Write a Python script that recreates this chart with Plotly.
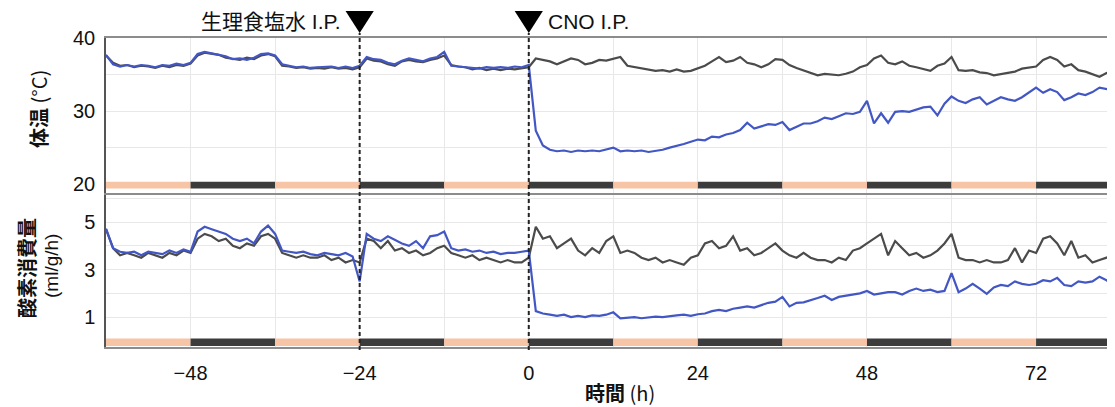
import plotly.graph_objects as go

# ---------------- data ----------------
HOURS = list(range(-60, 84))  # time (h), 1-h resolution

TEMP_CTRL = [
    37.6, 36.6, 36.2, 36.3, 36.0, 36.2, 36.1, 35.9, 36.2, 36.0, 36.3, 36.2,   # -60..-49
    36.5, 37.6, 38.0, 37.8, 37.7, 37.3, 37.2, 37.0, 37.3, 37.1, 37.6, 37.8,   # -48..-37
    37.5, 36.2, 36.1, 35.9, 36.0, 35.8, 35.9, 35.8, 36.0, 35.8, 35.9, 35.7,   # -36..-25
    36.0, 37.2, 36.9, 36.8, 36.4, 36.2, 36.8, 37.0, 36.8, 36.7, 37.0, 37.2,   # -24..-13
    37.6, 36.3, 36.1, 36.0, 35.7, 35.9, 35.6, 35.8, 35.6, 35.8, 35.7, 35.9,   # -12..-1
    36.0, 37.2, 37.0, 36.8, 36.4, 36.8, 37.2, 37.0, 36.4, 36.6, 37.0, 36.9,   # 0..11
    37.2, 37.4, 36.2, 36.0, 35.8, 35.7, 35.5, 35.6, 35.4, 35.7, 35.4, 35.5,   # 12..23
    35.9, 36.2, 36.8, 37.4, 36.7, 36.9, 37.4, 36.6, 36.4, 36.0, 36.4, 37.1,   # 24..35
    37.0, 36.3, 35.9, 35.6, 35.2, 34.9, 35.1, 35.0, 34.9, 35.1, 35.4, 36.0,   # 36..47
    36.3, 37.2, 37.6, 36.6, 36.4, 36.8, 36.2, 36.0, 35.7, 35.5, 36.2, 36.5,   # 48..59
    37.4, 35.6, 35.5, 35.6, 35.3, 35.2, 34.9, 35.1, 35.2, 35.4, 35.8, 36.0,   # 60..71
    36.1, 37.0, 37.4, 37.0, 36.1, 36.4, 35.6, 35.4, 35.0, 34.7, 35.2, 35.5,   # 72..83
]

TEMP_CNO = [
    37.7, 36.4, 36.1, 36.3, 36.1, 36.3, 36.2, 36.0, 36.3, 36.2, 36.5, 36.3,
    36.6, 37.8, 38.1, 37.9, 37.8, 37.5, 37.1, 37.2, 37.0, 37.3, 37.8, 37.9,
    37.6, 36.4, 36.2, 36.0, 36.1, 35.9, 36.0, 36.0, 36.1, 35.9, 36.1, 35.9,
    36.2, 37.4, 37.1, 37.0, 36.6, 36.4, 36.9, 37.2, 37.0, 36.8, 37.2, 37.4,
    38.1, 36.2, 36.1, 36.0, 36.0, 35.8, 36.0, 35.9, 36.0, 35.9, 36.1, 36.0,
    36.3, 27.3, 25.3, 24.7, 24.5, 24.6, 24.4, 24.6, 24.5, 24.6, 24.5, 24.7,
    25.0, 24.5, 24.6, 24.5, 24.6, 24.4, 24.5, 24.7, 25.0, 25.2, 25.5, 25.8,
    26.1, 26.0, 26.5, 26.4, 26.8, 27.0, 27.4, 28.4, 27.6, 27.9, 28.2, 28.1,
    28.5, 27.4, 27.9, 28.3, 28.3, 28.6, 29.1, 28.9, 29.3, 29.7, 29.6, 29.9,
    31.4, 28.3, 29.7, 28.4, 29.9, 30.0, 29.9, 30.2, 30.5, 30.6, 29.4, 31.0,
    32.0, 31.4, 31.1, 31.6, 31.9, 30.9, 31.4, 31.9, 31.6, 31.4, 31.9, 32.6,
    33.2, 32.5, 33.0, 32.6, 31.5, 31.9, 32.4, 32.2, 32.6, 33.2, 33.0, 32.8,
]

O2_CTRL = [
    4.70, 3.90, 3.60, 3.70, 3.60, 3.50, 3.70, 3.60, 3.50, 3.70, 3.60, 3.80,
    3.70, 4.30, 4.50, 4.40, 4.20, 4.30, 4.00, 3.90, 4.10, 4.00, 4.40, 4.50,
    4.30, 3.70, 3.60, 3.50, 3.60, 3.50, 3.50, 3.60, 3.40, 3.50, 3.30, 3.40,
    3.30, 4.30, 4.20, 3.90, 4.20, 3.80, 3.90, 3.70, 3.80, 3.60, 3.70, 3.90,
    4.00, 3.70, 3.60, 3.50, 3.60, 3.40, 3.50, 3.40, 3.30, 3.40, 3.30, 3.30,
    3.50, 4.80, 4.30, 4.40, 3.90, 4.10, 4.30, 3.80, 3.60, 3.90, 3.70, 4.20,
    4.40, 3.70, 3.80, 3.70, 3.50, 3.40, 3.50, 3.30, 3.40, 3.30, 3.20, 3.50,
    3.60, 4.10, 4.20, 3.90, 4.00, 4.40, 3.80, 3.90, 3.60, 3.70, 3.90, 4.10,
    3.80, 3.60, 3.50, 3.70, 3.50, 3.40, 3.40, 3.30, 3.50, 3.40, 3.80, 3.90,
    4.10, 4.30, 4.50, 3.60, 4.20, 3.90, 3.60, 3.70, 3.50, 3.60, 3.80, 4.10,
    4.50, 3.50, 3.40, 3.40, 3.30, 3.40, 3.30, 3.30, 3.40, 3.90, 3.30, 3.80,
    3.70, 4.30, 4.40, 4.10, 3.60, 4.20, 3.50, 3.60, 3.30, 3.40, 3.50, 3.60,
]

O2_CNO = [
    4.72, 3.90, 3.75, 3.70, 3.75, 3.60, 3.75, 3.70, 3.65, 3.80, 3.70, 3.85,
    3.75, 4.60, 4.80, 4.70, 4.60, 4.50, 4.30, 4.20, 4.30, 4.10, 4.60, 4.85,
    4.50, 3.80, 3.75, 3.70, 3.75, 3.65, 3.60, 3.70, 3.65, 3.60, 3.70, 3.55,
    2.50, 4.50, 4.30, 4.20, 4.40, 4.25, 4.10, 4.00, 4.20, 3.90, 4.40, 4.45,
    4.60, 3.90, 3.80, 3.85, 3.75, 3.80, 3.70, 3.75, 3.65, 3.70, 3.70, 3.75,
    3.80, 1.25, 1.15, 1.10, 1.05, 1.10, 1.00, 1.05, 1.00, 1.07, 1.05, 1.10,
    1.20, 0.95, 0.97, 1.00, 0.95, 1.00, 1.02, 1.00, 1.05, 1.07, 1.10, 1.05,
    1.12, 1.15, 1.25, 1.30, 1.25, 1.35, 1.40, 1.45, 1.40, 1.50, 1.60, 1.65,
    1.85, 1.45, 1.60, 1.62, 1.70, 1.80, 1.90, 1.72, 1.85, 1.90, 1.92, 2.00,
    2.10, 1.95, 2.00, 2.05, 2.05, 1.95, 2.10, 2.20, 2.10, 2.15, 2.05, 2.10,
    2.85, 2.05, 2.20, 2.40, 2.20, 1.98, 2.25, 2.35, 2.30, 2.50, 2.40, 2.35,
    2.40, 2.55, 2.50, 2.65, 2.35, 2.30, 2.50, 2.45, 2.50, 2.70, 2.55, 2.35,
]

# light/dark schedule (start, end, phase)
LD_STARTS = [-60, -48, -36, -24, -12, 0, 12, 24, 36, 48, 60, 72]
LD_ENDS = [-48, -36, -24, -12, 0, 12, 24, 36, 48, 60, 72, 84]
LD_PHASE = ["L", "D", "L", "D", "L", "D", "L", "D", "L", "D", "L", "D"]

X_TICKS = list(range(-60, 85, 12))
X_LABELS = {-48: "\u221248", -24: "\u221224", 0: "0", 24: "24", 48: "48", 72: "72"}
T_TICKS = [20, 25, 30, 35, 40]
T_LABELS = {20: "20", 30: "30", 40: "40"}
O_TICKS = [0, 1, 2, 3, 4, 5, 6]
O_LABELS = {1: "1", 3: "3", 5: "5"}

INJECTIONS = [-24, 0]
INJ_LABELS = ["生理食塩水 I.P.", "CNO I.P."]

# ---------------- style ----------------
GRAY = "#4b4b4b"
BLUE = "#4257c4"
LIGHT = "#f7c4a6"
DARK = "#3c3c3c"
GRID = "#e8e8e8"
FONT = "Liberation Sans, Noto Sans CJK JP, sans-serif"
JFONT = "Noto Sans CJK JP, sans-serif"

# page offset of the figure (default body margin of the html page)
OFF = 8
W, H = 1115 - OFF, 407 - OFF
L, T = 106 - OFF, 38 - OFF
PLOT_BOTTOM = 347 - OFF
B = H - PLOT_BOTTOM
PW, PH = W - L, PLOT_BOTTOM - T


def px_to_paper(px, py):
    """page pixel -> paper fraction"""
    return (px - OFF - L) / PW, (PLOT_BOTTOM - (py - OFF)) / PH


fig = go.Figure()
fig.add_trace(go.Scatter(x=HOURS, y=TEMP_CTRL, mode="lines", line=dict(color=GRAY, width=2.2),
                         xaxis="x", yaxis="y", showlegend=False))
fig.add_trace(go.Scatter(x=HOURS, y=TEMP_CNO, mode="lines", line=dict(color=BLUE, width=2.2),
                         xaxis="x", yaxis="y", showlegend=False))
fig.add_trace(go.Scatter(x=HOURS, y=O2_CTRL, mode="lines", line=dict(color=GRAY, width=2.2),
                         xaxis="x2", yaxis="y2", showlegend=False))
fig.add_trace(go.Scatter(x=HOURS, y=O2_CNO, mode="lines", line=dict(color=BLUE, width=2.2),
                         xaxis="x2", yaxis="y2", showlegend=False))

XR = [-60, 83.2]
common_x = dict(range=XR, tickvals=X_TICKS, showgrid=True, gridcolor=GRID, gridwidth=1,
                zeroline=False, showline=True, linecolor="#8c8c8c", linewidth=1.5, mirror=True,
                ticks="", fixedrange=True, automargin=False)

shapes = []
for s, e, p in zip(LD_STARTS, LD_ENDS, LD_PHASE):
    col = LIGHT if p == "L" else DARK
    shapes.append(dict(type="rect", xref="x", yref="y", x0=s, x1=e, y0=19.41, y1=20.32,
                       fillcolor=col, line=dict(width=0), layer="above"))
    shapes.append(dict(type="rect", xref="x2", yref="y2", x0=s, x1=e, y0=-0.22, y1=0.10,
                       fillcolor=col, line=dict(width=0), layer="above"))
_, tri_top = px_to_paper(0, 11)
_, tri_tip = px_to_paper(0, 33)
for t in INJECTIONS:
    shapes.append(dict(type="line", xref="x", yref="paper", x0=t, x1=t, y0=-0.01, y1=tri_tip,
                       line=dict(color="#222222", width=2, dash="4px,3px"), layer="above"))
    shapes.append(dict(type="path", xref="x", yref="paper",
                       path=f"M {t-2.0},{tri_top} L {t+2.0},{tri_top} L {t},{tri_tip} Z",
                       fillcolor="#000000", line=dict(width=0)))

ax1, ay1 = px_to_paper(38, 109)
ax2, ay2 = px_to_paper(26, 268)
ax3, ay3 = px_to_paper(51, 266)
ax4, ay4 = px_to_paper(620, 392)
_, ay5 = px_to_paper(0, 22)

annotations = [
    dict(text=INJ_LABELS[0], x=INJECTIONS[0] - 2.3, y=ay5, xref="x", yref="paper",
         xanchor="right", yanchor="middle", showarrow=False,
         font=dict(family=FONT, size=21, color="#111")),
    dict(text=INJ_LABELS[1], x=INJECTIONS[1] + 2.5, y=ay5, xref="x", yref="paper",
         xanchor="left", yanchor="middle", showarrow=False,
         font=dict(family=FONT, size=21, color="#111")),
    dict(text="<b>体温</b> (°C)", x=ax1, y=ay1, xref="paper", yref="paper", showarrow=False,
         xanchor="center", yanchor="middle", textangle=-90,
         font=dict(family=JFONT, size=20, color="#111")),
    dict(text="<b>酸素消費量</b>", x=ax2, y=ay2, xref="paper", yref="paper", showarrow=False,
         xanchor="center", yanchor="middle", textangle=-90,
         font=dict(family=JFONT, size=20, color="#111")),
    dict(text="(ml/g/h)", x=ax3, y=ay3, xref="paper", yref="paper", showarrow=False,
         xanchor="center", yanchor="middle", textangle=-90,
         font=dict(family=FONT, size=19, color="#111")),
    dict(text="<b>時間</b> (h)", x=ax4, y=ay4, xref="paper", yref="paper", showarrow=False,
         xanchor="center", yanchor="middle", font=dict(family=JFONT, size=20, color="#111")),
]

ytick_common = dict(showgrid=True, gridcolor=GRID, zeroline=False, showline=True,
                    linecolor="#555555", linewidth=1.5, mirror=True, ticks="",
                    ticklabelstandoff=5, tickfont=dict(family=FONT, size=20, color="#111"),
                    fixedrange=True, automargin=False)

fig.update_layout(
    width=W, height=H,
    margin=dict(l=L, r=0, t=T, b=B, autoexpand=False),
    paper_bgcolor="white", plot_bgcolor="white",
    font=dict(family=FONT, size=18, color="#111"),
    xaxis=dict(domain=[0, 1], anchor="y", showticklabels=False, **common_x),
    xaxis2=dict(domain=[0, 1], anchor="y2", matches="x",
                ticktext=[X_LABELS.get(v, "") for v in X_TICKS], showticklabels=True,
                ticklabelstandoff=7, tickfont=dict(family=FONT, size=20, color="#111"),
                **common_x),
    yaxis=dict(domain=[0.498, 1], anchor="x", range=[18.77, 40], tickvals=T_TICKS,
               ticktext=[T_LABELS.get(v, "") for v in T_TICKS], **ytick_common),
    yaxis2=dict(domain=[0, 0.492], anchor="x2", range=[-0.26, 6.14], tickvals=O_TICKS,
                ticktext=[O_LABELS.get(v, "") for v in O_TICKS], **ytick_common),
    shapes=shapes,
    annotations=annotations,
)

fig.write_html("out.html")
